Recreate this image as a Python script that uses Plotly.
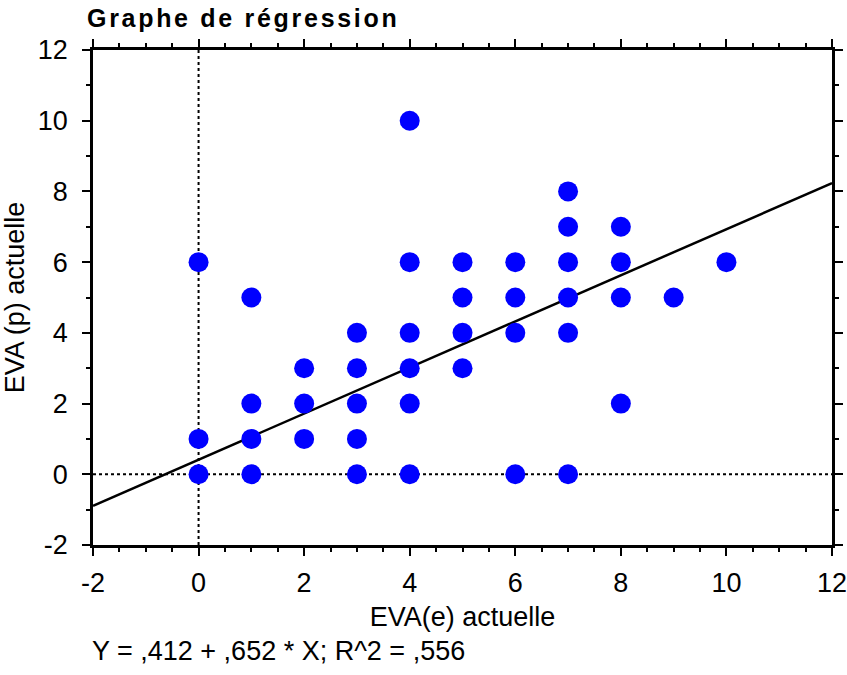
import plotly.graph_objects as go

# Data points (EVA(e), EVA(p))
x_vals = [0, 0, 0,
          1, 1, 1, 1,
          2, 2, 2,
          3, 3, 3, 3, 3,
          4, 4, 4, 4, 4, 4,
          5, 5, 5, 5,
          6, 6, 6, 6,
          7, 7, 7, 7, 7, 7,
          8, 8, 8, 8,
          9,
          10]
y_vals = [0, 1, 6,
          0, 1, 2, 5,
          1, 2, 3,
          0, 1, 2, 3, 4,
          0, 2, 3, 4, 6, 10,
          3, 4, 5, 6,
          0, 4, 5, 6,
          0, 4, 5, 6, 7, 8,
          2, 5, 6, 7,
          5,
          6]

intercept = 0.412
slope = 0.652
x_range = [-2, 12]
y_range = [-2, 12]
tick_vals = [-2, 0, 2, 4, 6, 8, 10, 12]
tick_text = ["-2", "0", "2", "4", "6", "8", "10", "12"]
line_x = [-2, 12]
line_y = [intercept + slope * v for v in line_x]

FONT = "Liberation Sans, Arial, sans-serif"
FS = 27

fig = go.Figure()
fig.add_trace(go.Scatter(x=line_x, y=line_y, mode="lines",
                         line=dict(color="black", width=2.5), showlegend=False,
                         hoverinfo="skip"))
fig.add_trace(go.Scatter(x=x_vals, y=y_vals, mode="markers",
                         marker=dict(color="#0000FF", size=20, line=dict(width=0)),
                         showlegend=False))

# dotted reference lines at 0
fig.add_shape(type="line", x0=0, x1=0, y0=y_range[0], y1=y_range[1], xref="x", yref="y",
              line=dict(color="black", width=2, dash="dot"), layer="below")
fig.add_shape(type="line", x0=x_range[0], x1=x_range[1], y0=0, y1=0, xref="x", yref="y",
              line=dict(color="black", width=2, dash="dot"), layer="below")

axis_common = dict(
    showgrid=False, zeroline=False, showline=True, linecolor="black", linewidth=2.5,
    mirror="allticks", ticks="outside", ticklen=8, tickwidth=2, tickcolor="black",
    tickfont=dict(family=FONT, size=FS, color="black"), automargin=False,
    tickmode="array", tickvals=tick_vals, ticktext=tick_text, ticklabeloverflow="allow",
)

fig.update_xaxes(range=x_range,
                 minor=dict(dtick=0.5, ticks="outside", ticklen=4, tickwidth=2, tickcolor="black"),
                 title=dict(text="EVA(e) actuelle", font=dict(family=FONT, size=FS, color="black"), standoff=10),
                 ticklabelstandoff=4, **axis_common)
fig.update_yaxes(range=y_range,
                 minor=dict(dtick=1, ticks="outside", ticklen=4, tickwidth=2, tickcolor="black"),
                 title=dict(text="EVA (p) actuelle", font=dict(family=FONT, size=FS, color="black"), standoff=13),
                 ticklabelstandoff=9, **axis_common)

fig.add_annotation(text="<b>Graphe de régression</b>", xref="paper", yref="paper",
                   x=0, xshift=19, y=1.0, yshift=32, xanchor="left", yanchor="middle", showarrow=False,
                   font=dict(family=FONT, size=25, color="black"))
fig.add_annotation(text="Y = ,412 + ,652 * X; R^2 = ,556", xref="paper", yref="paper",
                   x=0.0, xshift=-3, y=0, yshift=-106, xanchor="left", yanchor="middle", showarrow=False,
                   font=dict(family=FONT, size=FS, color="black"))

fig.update_layout(
    width=847, height=675,
    margin=dict(l=93, r=15, t=50, b=130),
    plot_bgcolor="white", paper_bgcolor="white",
)

post = """
document.body.style.margin = '0';
document.body.style.overflow = 'hidden';
document.querySelectorAll('.annotation-text').forEach(function(t){
  if (t.textContent.indexOf('Graphe') === 0) { t.setAttribute('letter-spacing', '2.7px'); }
});
"""
fig.write_html("out.html", post_script=post, config={"displayModeBar": False})
